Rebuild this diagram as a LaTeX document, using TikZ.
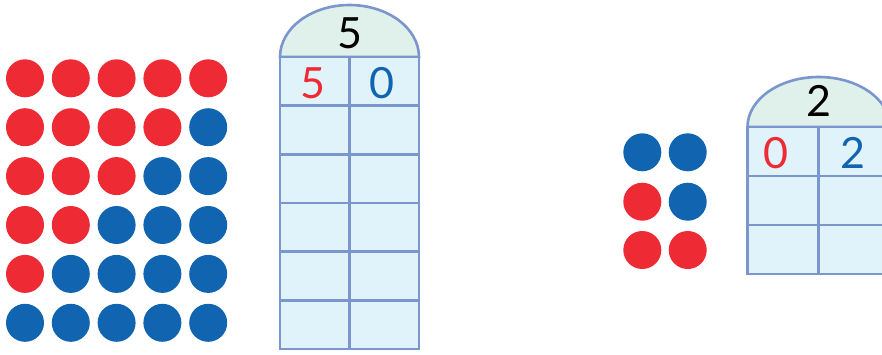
\documentclass[tikz,border=0pt]{standalone}
\usepackage{fontspec}
\setmainfont{Lato}
\usetikzlibrary{positioning}
\definecolor{dotred}{HTML}{EE2A35}
\definecolor{dotblue}{HTML}{1064B0}
\definecolor{gridline}{HTML}{7B96CC}
\definecolor{cellfill}{HTML}{E0F2FA}
\definecolor{headfill}{HTML}{E0F0EA}
\begin{document}
\begin{tikzpicture}[
    x=1pt, y=-1pt,
    counter/.style={circle, minimum size=38pt, inner sep=0pt},
    redcount/.style={counter, fill=dotred},
    bluecount/.style={counter, fill=dotblue},
    digit/.style={font=\fontsize{43}{43}\selectfont, inner sep=0pt},
    grid/.style={draw=gridline, line width=2.6pt}
]
\clip (0,0) rectangle (882,354);

% counters for 5
\foreach \r in {0,...,5} {
  \foreach \c in {0,...,4} {
    \pgfmathtruncatemacro\nred{5-\r}
    \ifnum\c<\nred
      \node[redcount] (l-\r-\c) at (25+45.8*\c, 78.3+48.9*\r) {};
    \else
      \node[bluecount] (l-\r-\c) at (25+45.8*\c, 78.3+48.9*\r) {};
    \fi
  }
}

% table for 5
\filldraw[grid, fill=headfill] (280,57) arc[start angle=180, end angle=0, x radius=69.5pt, y radius=52pt] -- cycle;
\filldraw[grid, fill=cellfill] (280,57) rectangle (419,349);
\foreach \k in {1,...,5}
  \draw[grid] (280,57+48.67*\k) -- (419,57+48.67*\k);
\draw[grid] (349.5,57) -- (349.5,349);
\node[digit, text=black] (lhead) at (349.5,33) {5};
\node[digit, text=dotred] (ltens) at (313,83) {5};
\node[digit, text=dotblue] (lones) at (382,83) {0};

% counters for 2
\node[bluecount] (r-0-0) at (642.3,152.3) {};
\node[bluecount] (r-0-1) at (687.7,152.3) {};
\node[redcount] (r-1-0) at (642.3,201.7) {};
\node[bluecount] (r-1-1) at (687.7,201.7) {};
\node[redcount] (r-2-0) at (642.3,250) {};
\node[redcount] (r-2-1) at (687.7,250) {};

% table for 2
\filldraw[grid, fill=headfill] (747.5,127) arc[start angle=180, end angle=0, x radius=71.25pt, y radius=50pt] -- cycle;
\filldraw[grid, fill=cellfill] (747.5,127) rectangle (890,274);
\foreach \k in {1,2}
  \draw[grid] (747.5,127+49*\k) -- (890,127+49*\k);
\draw[grid] (818.75,127) -- (818.75,274);
\node[digit, text=black] (rhead) at (818.75,101) {2};
\node[digit, text=dotred] (rtens) at (776,153) {0};
\node[digit, text=dotblue] (rones) at (853,153) {2};
\end{tikzpicture}
\end{document}
